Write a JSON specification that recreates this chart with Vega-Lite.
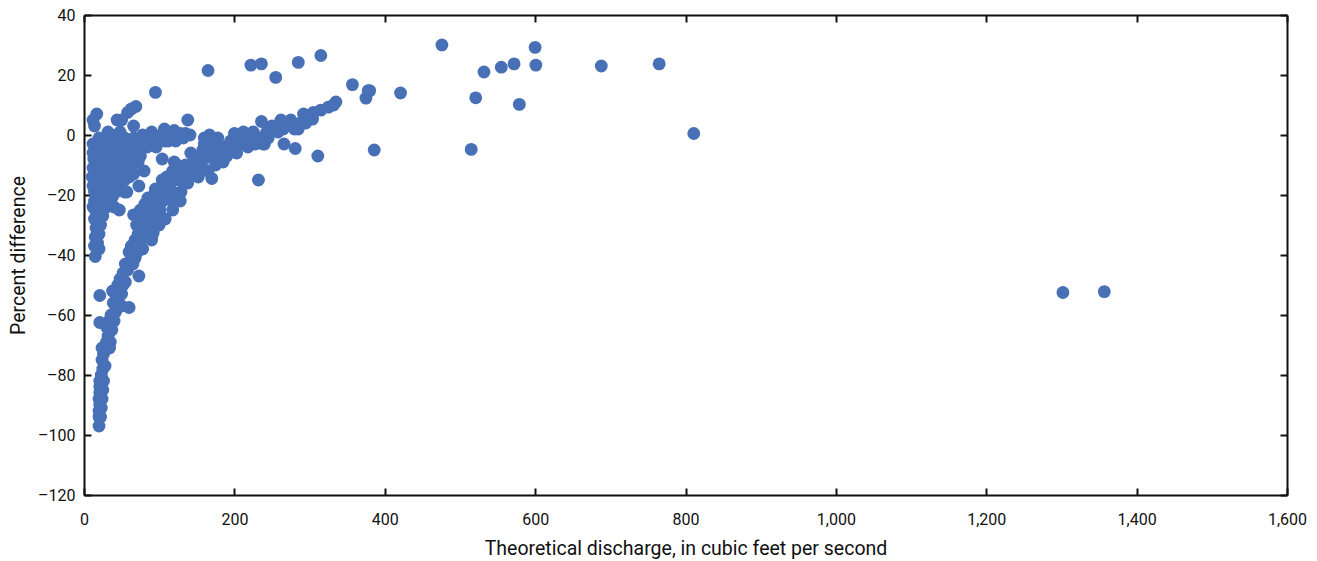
{"$schema":"https://vega.github.io/schema/vega-lite/v6.json","width":1203,"height":480,"padding":{"left":84,"top":15,"right":30,"bottom":66},"autosize":"none","config":{"view":{"stroke":null},"font":"Roboto","axis":{"grid":false,"domainColor":"#111","domainWidth":2,"tickColor":"#111","tickWidth":2,"tickSize":-7,"labelFont":"Roboto","titleFont":"Roboto","labelFontSize":16,"titleFontSize":19.5,"titleFontWeight":"normal","labelColor":"#111","titleColor":"#111"}},"data":{"values":[{"q":165,"d":21.5},{"q":222,"d":23.3},{"q":236,"d":23.7},{"q":255,"d":19.2},{"q":285,"d":24.2},{"q":315,"d":26.5},{"q":357,"d":16.8},{"q":375,"d":12.3},{"q":378,"d":14.8},{"q":380,"d":14.8},{"q":421,"d":14},{"q":476,"d":30},{"q":521,"d":12.4},{"q":532,"d":21},{"q":555,"d":22.6},{"q":572,"d":23.7},{"q":579,"d":10.2},{"q":600,"d":29.2},{"q":601,"d":23.3},{"q":688,"d":23},{"q":765,"d":23.7},{"q":811,"d":0.5},{"q":515,"d":-4.8},{"q":386,"d":-5},{"q":311,"d":-7},{"q":232,"d":-15},{"q":1302,"d":-52.5},{"q":1357,"d":-52.2},{"q":95,"d":14.2},{"q":69,"d":9.5},{"q":63,"d":8.7},{"q":58,"d":7.5},{"q":17,"d":7},{"q":12,"d":5},{"q":14,"d":3},{"q":138,"d":5},{"q":44,"d":5},{"q":50,"d":5},{"q":66,"d":3},{"q":12,"d":-3},{"q":13,"d":-8},{"q":12,"d":-11},{"q":15,"d":-15},{"q":14,"d":-19},{"q":14,"d":-22},{"q":15,"d":-25},{"q":14,"d":-28},{"q":16,"d":-31},{"q":15,"d":-34},{"q":14,"d":-37},{"q":15,"d":-40.5},{"q":18,"d":-36},{"q":20,"d":-33},{"q":22,"d":-30},{"q":25,"d":-27},{"q":20,"d":-24},{"q":18,"d":-20},{"q":18,"d":-16},{"q":17,"d":-12},{"q":18,"d":-8},{"q":17,"d":-4},{"q":20,"d":-1},{"q":24,"d":-3},{"q":24,"d":-7},{"q":23,"d":-11},{"q":24,"d":-15},{"q":24,"d":-19},{"q":25,"d":-22},{"q":30,"d":-24},{"q":30,"d":-20},{"q":30,"d":-16},{"q":30,"d":-12},{"q":29,"d":-8},{"q":30,"d":-4},{"q":32,"d":1},{"q":36,"d":-1},{"q":36,"d":-5},{"q":36,"d":-9},{"q":36,"d":-13},{"q":36,"d":-17},{"q":37,"d":-21},{"q":40,"d":-24},{"q":42,"d":-19},{"q":42,"d":-15},{"q":42,"d":-11},{"q":42,"d":-7},{"q":42,"d":-3},{"q":43,"d":0},{"q":48,"d":1},{"q":48,"d":-3},{"q":48,"d":-7},{"q":48,"d":-11},{"q":48,"d":-15},{"q":47,"d":-18},{"q":47,"d":-25},{"q":54,"d":-19},{"q":54,"d":-15},{"q":54,"d":-11},{"q":54,"d":-7},{"q":54,"d":-3},{"q":54,"d":-1},{"q":60,"d":-3},{"q":60,"d":-7},{"q":60,"d":-11},{"q":60,"d":-14},{"q":66,"d":-13},{"q":66,"d":-9},{"q":66,"d":-5},{"q":66,"d":-1},{"q":72,"d":-2},{"q":72,"d":-6},{"q":72,"d":-9},{"q":73,"d":-17},{"q":80,"d":-12},{"q":78,"d":0},{"q":78,"d":-4},{"q":84,"d":-1},{"q":84,"d":-4},{"q":90,"d":-2},{"q":90,"d":1},{"q":96,"d":-1},{"q":96,"d":-4},{"q":102,"d":-1},{"q":107,"d":2},{"q":108,"d":-2},{"q":104,"d":-8},{"q":114,"d":0},{"q":120,"d":1.5},{"q":122,"d":-2},{"q":128,"d":0.5},{"q":135,"d":0.5},{"q":141,"d":0},{"q":142,"d":-6},{"q":151,"d":-8},{"q":120,"d":-9},{"q":21,"d":-53.5},{"q":21,"d":-62.5},{"q":60,"d":-57.5},{"q":73,"d":-47},{"q":20,"d":-97},{"q":20,"d":-94},{"q":20,"d":-92},{"q":21,"d":-90},{"q":20,"d":-88},{"q":21,"d":-86},{"q":21,"d":-84},{"q":21,"d":-82},{"q":23,"d":-80},{"q":26,"d":-82},{"q":25,"d":-78},{"q":27,"d":-77},{"q":24,"d":-75},{"q":26,"d":-73},{"q":28,"d":-71},{"q":30,"d":-69},{"q":32,"d":-67},{"q":35,"d":-69},{"q":37,"d":-65},{"q":33,"d":-62},{"q":36,"d":-60},{"q":40,"d":-62},{"q":42,"d":-59},{"q":39,"d":-56},{"q":42,"d":-53},{"q":46,"d":-56},{"q":50,"d":-53},{"q":45,"d":-50},{"q":48,"d":-48},{"q":52,"d":-50},{"q":52,"d":-46},{"q":55,"d":-43},{"q":58,"d":-45},{"q":62,"d":-42},{"q":60,"d":-39},{"q":63,"d":-37},{"q":68,"d":-41},{"q":71,"d":-39},{"q":68,"d":-35},{"q":72,"d":-33},{"q":70,"d":-30},{"q":76,"d":-35},{"q":80,"d":-31},{"q":82,"d":-34},{"q":92,"d":-32.7},{"q":88,"d":-29},{"q":83,"d":-27},{"q":78,"d":-28},{"q":66,"d":-26.6},{"q":81,"d":-23},{"q":90,"d":-24},{"q":96,"d":-27},{"q":97,"d":-23},{"q":93,"d":-20},{"q":101,"d":-25},{"q":105,"d":-22},{"q":100,"d":-19},{"q":106,"d":-17},{"q":110,"d":-20},{"q":118,"d":-25},{"q":113,"d":-17},{"q":110,"d":-14},{"q":118,"d":-19},{"q":122,"d":-15},{"q":118,"d":-12},{"q":129,"d":-19},{"q":132,"d":-16},{"q":127,"d":-13},{"q":124,"d":-10},{"q":138,"d":-16},{"q":142,"d":-13},{"q":135,"d":-10},{"q":152,"d":-14},{"q":155,"d":-11},{"q":170,"d":-14.5},{"q":145,"d":-9},{"q":160,"d":-8},{"q":165,"d":-12},{"q":175,"d":-10},{"q":168,"d":-7},{"q":160,"d":-3},{"q":160,"d":-1},{"q":167,"d":0},{"q":172,"d":-3},{"q":178,"d":-6},{"q":178,"d":-1},{"q":185,"d":-4},{"q":190,"d":-7},{"q":195,"d":-2},{"q":200,"d":0.5},{"q":203,"d":-6},{"q":208,"d":-3},{"q":212,"d":1},{"q":218,"d":-4},{"q":222,"d":-2},{"q":228,"d":-3},{"q":233,"d":-1},{"q":238,"d":-3},{"q":236,"d":4.5},{"q":243,"d":1},{"q":240,"d":-3},{"q":250,"d":3},{"q":258,"d":1},{"q":262,"d":5},{"q":266,"d":-3},{"q":270,"d":3},{"q":275,"d":5},{"q":280,"d":2},{"q":281,"d":-4.5},{"q":288,"d":4},{"q":292,"d":7},{"q":298,"d":6},{"q":305,"d":7.5},{"q":304,"d":5.3},{"q":315,"d":8.3},{"q":325,"d":9.3},{"q":335,"d":11},{"q":332,"d":10},{"q":12,"d":-6},{"q":11,"d":-14},{"q":16,"d":-9},{"q":20,"d":-6},{"q":21,"d":-13},{"q":21,"d":-18},{"q":27,"d":-2},{"q":27,"d":-10},{"q":27,"d":-18},{"q":33,"d":-7},{"q":33,"d":-15},{"q":33,"d":-22},{"q":39,"d":-3},{"q":39,"d":-12},{"q":39,"d":-20},{"q":45,"d":-5},{"q":45,"d":-13},{"q":51,"d":-5},{"q":51,"d":-13},{"q":57,"d":-5},{"q":57,"d":-9},{"q":63,"d":-3},{"q":63,"d":-11},{"q":69,"d":-7},{"q":75,"d":-3},{"q":75,"d":-7},{"q":81,"d":-2},{"q":87,"d":-3},{"q":93,"d":-1},{"q":99,"d":-2},{"q":104,"d":0},{"q":112,"d":-2},{"q":117,"d":-1},{"q":125,"d":-1},{"q":132,"d":-1},{"q":18,"d":-28},{"q":20,"d":-38},{"q":18,"d":-31},{"q":23,"d":-25},{"q":12,"d":-17},{"q":12,"d":-24},{"q":21,"d":-10},{"q":57,"d":-19},{"q":86,"d":-32},{"q":75,"d":-25},{"q":85,"d":-21},{"q":80,"d":-26},{"q":95,"d":-18},{"q":104,"d":-15},{"q":112,"d":-14},{"q":148,"d":-12},{"q":128,"d":-22},{"q":118,"d":-22},{"q":108,"d":-28},{"q":100,"d":-30},{"q":90,"d":-35},{"q":78,"d":-38},{"q":65,"d":-43},{"q":55,"d":-49},{"q":50,"d":-57},{"q":38,"d":-52},{"q":30,"d":-64},{"q":34,"d":-71},{"q":28,"d":-77},{"q":24,"d":-71},{"q":25,"d":-85},{"q":24,"d":-88},{"q":23,"d":-91},{"q":22,"d":-94},{"q":185,"d":-9},{"q":195,"d":-5},{"q":205,"d":-2},{"q":215,"d":0},{"q":225,"d":1},{"q":170,"d":-5},{"q":150,"d":-11},{"q":158,"d":-5},{"q":245,"d":-1},{"q":255,"d":3},{"q":265,"d":2},{"q":285,"d":2},{"q":295,"d":4},{"q":248,"d":2}]},"layer":[{"mark":{"type":"circle","size":165,"color":"#4870b7","opacity":1},"encoding":{"x":{"field":"q","type":"quantitative","scale":{"domain":[0,1600]},"axis":{"values":[0,200,400,600,800,1000,1200,1400,1600],"title":"Theoretical discharge, in cubic feet per second","labelPadding":23,"titlePadding":12,"format":",d","labelFlush":false,"labelOverlap":false,"labelBound":false}},"y":{"field":"d","type":"quantitative","scale":{"domain":[-120,40]},"axis":{"values":[-120,-100,-80,-60,-40,-20,0,20,40],"title":"Percent difference","labelPadding":16,"titlePadding":9,"labelExpr":"replace(datum.label,'−','–')"}}}},{"mark":{"type":"point","opacity":0},"encoding":{"x":{"field":"q","type":"quantitative","scale":{"domain":[0,1600]},"axis":{"orient":"top","values":[0,200,400,600,800,1000,1200,1400,1600],"labels":false,"title":null}},"y":{"field":"d","type":"quantitative","scale":{"domain":[-120,40]},"axis":{"orient":"right","values":[-120,-100,-80,-60,-40,-20,0,20,40],"labels":false,"title":null}}}}],"resolve":{"scale":{"x":"independent","y":"independent"},"axis":{"x":"independent","y":"independent"}}}
